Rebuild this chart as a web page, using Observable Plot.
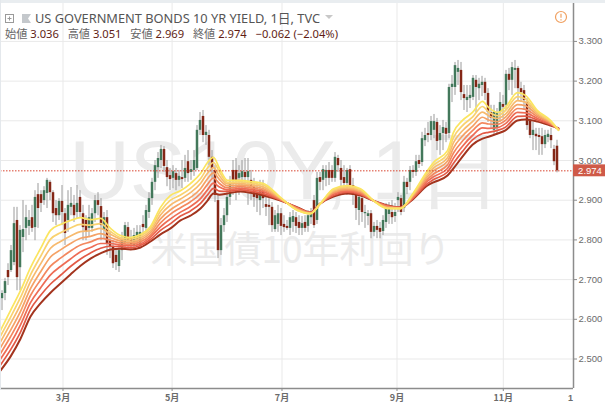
<!DOCTYPE html>
<html><head><meta charset="utf-8">
<script src="https://cdn.jsdelivr.net/npm/d3@7"></script>
<script src="https://cdn.jsdelivr.net/npm/@observablehq/plot@0.6"></script>
<style>
html,body{margin:0;padding:0;background:#fff;width:605px;height:406px;overflow:hidden}
#wrap{position:relative;width:605px;height:406px}
#wrap svg{position:absolute;left:0;top:0;overflow:visible}
.abs{position:absolute}
.l1,.l2{font-family:"Noto Sans","Noto Sans CJK JP",sans-serif;white-space:pre;line-height:1}
.l1{left:35px;top:12px;font-size:12.8px;color:#555}
.l2{left:5px;top:28px;font-size:11.2px;color:#666}
.l2 b{font-weight:400;color:#5f1d14}
</style></head><body><div id="wrap"></div>
<script>
const opens=[
2.652,2.665,2.723,2.723,2.743,2.849,2.730,2.806,2.829,2.834,
2.856,2.831,2.914,2.914,2.899,2.917,2.945,2.919,2.879,2.861,
2.897,2.866,2.849,2.882,2.887,2.869,2.907,2.866,2.849,2.829,
2.829,2.866,2.899,2.884,2.824,2.856,2.798,2.781,2.761,2.733,
2.773,2.791,2.831,2.803,2.786,2.798,2.786,2.839,2.829,2.869,
2.904,2.945,2.982,3.000,3.028,2.982,2.962,2.955,2.967,2.950,
2.957,2.955,2.997,2.970,2.975,2.980,3.076,3.111,3.063,3.063,
3.008,2.975,2.899,2.773,2.836,2.861,2.907,2.975,2.975,2.955,
2.957,2.970,2.957,2.950,2.932,2.917,2.899,2.924,2.889,2.887,
2.882,2.826,2.839,2.866,2.839,2.834,2.829,2.844,2.856,2.844,
2.829,2.844,2.834,2.856,2.899,2.849,2.957,2.950,2.955,2.975,
2.975,2.955,3.005,2.980,2.957,2.942,2.977,2.937,2.912,2.874,
2.904,2.866,2.859,2.866,2.819,2.834,2.829,2.821,2.844,2.864,
2.869,2.859,2.899,2.904,2.879,2.945,2.945,2.975,2.970,3.000,
2.995,3.050,3.068,3.063,3.076,3.096,3.050,3.068,3.081,3.068,
3.184,3.184,3.222,3.227,3.166,3.151,3.156,3.159,3.202,3.181,
3.189,3.197,3.169,3.121,3.076,3.081,3.121,3.141,3.139,3.217,
3.202,3.227,3.232,3.181,3.176,3.146,3.101,3.063,3.066,3.063,
3.060,3.040,3.058,3.063,3.028,3.036];
const closes=[
2.665,2.695,2.705,2.773,2.841,2.705,2.824,2.826,2.856,2.849,
2.829,2.907,2.879,2.892,2.924,2.950,2.919,2.866,2.861,2.897,
2.869,2.816,2.887,2.892,2.861,2.892,2.869,2.831,2.819,2.856,
2.866,2.899,2.887,2.836,2.856,2.791,2.781,2.740,2.743,2.773,
2.798,2.836,2.798,2.788,2.811,2.819,2.819,2.831,2.874,2.904,
2.945,2.987,3.005,3.028,2.985,2.957,2.952,2.972,2.950,2.960,
2.952,2.980,2.967,2.977,3.000,3.076,3.101,3.063,3.071,3.008,
2.980,2.912,2.773,2.836,2.861,2.907,2.945,2.950,2.950,2.967,
2.972,2.957,2.972,2.932,2.907,2.904,2.924,2.904,2.882,2.882,
2.836,2.861,2.866,2.834,2.831,2.829,2.856,2.859,2.834,2.829,
2.841,2.829,2.861,2.864,2.836,2.955,2.945,2.977,2.975,2.955,
2.955,3.008,2.987,2.950,2.942,2.975,2.937,2.912,2.879,2.907,
2.869,2.869,2.866,2.819,2.834,2.824,2.819,2.849,2.879,2.879,
2.856,2.869,2.907,2.869,2.945,2.932,2.975,2.970,2.997,2.990,
3.055,3.063,3.063,3.098,3.098,3.048,3.068,3.083,3.066,3.184,
3.192,3.239,3.232,3.171,3.156,3.159,3.164,3.207,3.184,3.192,
3.197,3.169,3.121,3.106,3.121,3.121,3.146,3.134,3.217,3.202,
3.234,3.232,3.181,3.171,3.151,3.088,3.063,3.076,3.060,3.058,
3.040,3.063,3.066,3.050,2.997,2.974];
const highs=[
2.672,2.703,2.740,2.786,2.882,2.882,2.836,2.899,2.887,2.874,
2.887,2.924,2.942,2.924,2.934,2.955,2.950,2.924,2.899,2.904,
2.937,2.879,2.924,2.932,2.912,2.937,2.924,2.887,2.861,2.887,
2.879,2.912,2.919,2.904,2.869,2.874,2.819,2.798,2.778,2.788,
2.819,2.844,2.844,2.824,2.829,2.836,2.836,2.861,2.887,2.919,
2.955,3.000,3.020,3.038,3.035,3.000,2.980,2.987,2.980,2.975,
3.000,3.013,3.025,3.000,3.025,3.088,3.121,3.126,3.088,3.076,
3.025,2.987,2.912,2.854,2.879,2.924,2.960,3.000,3.005,2.987,
3.000,3.005,3.005,2.975,2.955,2.945,2.950,2.950,2.912,2.904,
2.894,2.874,2.887,2.879,2.861,2.849,2.869,2.874,2.869,2.861,
2.859,2.861,2.874,2.879,2.912,2.970,2.970,2.987,2.987,2.995,
2.987,3.020,3.013,3.000,2.987,2.980,2.987,2.955,2.929,2.919,
2.924,2.887,2.874,2.874,2.844,2.849,2.844,2.861,2.892,2.894,
2.899,2.892,2.919,2.912,2.960,2.955,2.985,2.987,3.013,3.013,
3.071,3.081,3.096,3.111,3.116,3.106,3.088,3.101,3.096,3.192,
3.214,3.247,3.252,3.247,3.189,3.189,3.189,3.214,3.214,3.207,
3.212,3.207,3.181,3.139,3.139,3.131,3.171,3.164,3.227,3.232,
3.247,3.252,3.237,3.197,3.189,3.156,3.139,3.096,3.081,3.081,
3.081,3.076,3.076,3.081,3.038,3.051];
const lows=[
2.622,2.647,2.685,2.718,2.735,2.672,2.672,2.768,2.798,2.811,
2.819,2.798,2.829,2.869,2.887,2.879,2.899,2.844,2.836,2.849,
2.836,2.786,2.819,2.861,2.844,2.854,2.854,2.798,2.798,2.806,
2.819,2.844,2.861,2.798,2.803,2.761,2.753,2.728,2.723,2.718,
2.748,2.778,2.773,2.773,2.773,2.783,2.778,2.811,2.819,2.854,
2.887,2.924,2.955,2.980,2.970,2.934,2.924,2.929,2.924,2.934,
2.929,2.945,2.945,2.950,2.960,2.975,3.063,3.045,3.038,2.987,
2.955,2.894,2.753,2.761,2.819,2.844,2.887,2.912,2.899,2.912,
2.924,2.919,2.887,2.899,2.882,2.869,2.861,2.879,2.859,2.836,
2.819,2.819,2.819,2.811,2.819,2.824,2.811,2.819,2.816,2.811,
2.811,2.819,2.819,2.839,2.829,2.839,2.924,2.924,2.934,2.937,
2.945,2.945,2.970,2.912,2.919,2.912,2.924,2.887,2.849,2.836,
2.844,2.829,2.836,2.803,2.808,2.803,2.803,2.811,2.829,2.839,
2.839,2.844,2.869,2.861,2.869,2.914,2.924,2.955,2.960,2.980,
2.985,3.035,3.045,3.050,3.055,3.025,3.013,3.025,3.045,3.055,
3.146,3.164,3.189,3.151,3.126,3.121,3.131,3.151,3.121,3.151,
3.161,3.151,3.096,3.081,3.063,3.063,3.096,3.106,3.126,3.176,
3.164,3.181,3.151,3.146,3.126,3.076,3.055,3.025,3.025,3.013,
3.013,3.030,3.045,3.030,2.987,2.969];

const ribbonBars=[0,3.33,6.67,10,13.33,16.67,20,23.33,26.67,30,33.33,36.67,40,43.33,46.67,50,53.33,56.67,60,63.33,66.67,69,71,73,75.67,80,83.33,87.67,93.33,99,103.33,106.67,111,115.67,120,124.33,129,133.33,137.67,142.33,144.33,149,151,154,157.33,160.67,162.67,165.67,168.33,172.33,175,179,183.33,186];
const ma1=[2.572,2.622,2.672,2.730,2.778,2.824,2.839,2.849,2.856,2.851,2.854,2.829,2.811,2.806,2.814,2.834,2.882,2.912,2.924,2.942,2.967,2.995,3.008,2.980,2.950,2.950,2.947,2.942,2.907,2.874,2.866,2.892,2.929,2.937,2.929,2.899,2.879,2.879,2.919,2.975,2.995,3.025,3.071,3.101,3.121,3.149,3.134,3.121,3.134,3.171,3.164,3.126,3.101,3.076];
const ma2=[2.558,2.605,2.655,2.712,2.758,2.802,2.818,2.830,2.839,2.837,2.841,2.821,2.806,2.802,2.809,2.829,2.872,2.900,2.913,2.930,2.954,2.981,2.995,2.971,2.945,2.946,2.943,2.938,2.906,2.875,2.866,2.892,2.926,2.934,2.927,2.899,2.880,2.879,2.917,2.970,2.988,3.016,3.058,3.088,3.109,3.136,3.123,3.113,3.126,3.161,3.155,3.122,3.099,3.077];
const ma3=[2.543,2.589,2.637,2.695,2.739,2.779,2.796,2.810,2.821,2.823,2.829,2.814,2.802,2.797,2.805,2.823,2.863,2.888,2.903,2.919,2.942,2.968,2.982,2.961,2.941,2.942,2.939,2.933,2.905,2.876,2.867,2.892,2.923,2.931,2.924,2.899,2.881,2.880,2.915,2.964,2.981,3.007,3.045,3.075,3.098,3.122,3.113,3.106,3.117,3.151,3.147,3.118,3.097,3.077];
const ma4=[2.529,2.572,2.620,2.677,2.719,2.757,2.775,2.791,2.804,2.809,2.816,2.806,2.797,2.793,2.800,2.818,2.853,2.876,2.892,2.907,2.929,2.954,2.969,2.952,2.936,2.938,2.935,2.929,2.904,2.877,2.867,2.892,2.920,2.928,2.922,2.899,2.882,2.880,2.913,2.959,2.974,2.998,3.032,3.062,3.086,3.109,3.102,3.098,3.109,3.141,3.138,3.114,3.095,3.078];
const ma5=[2.514,2.556,2.603,2.660,2.699,2.734,2.754,2.772,2.787,2.795,2.804,2.799,2.792,2.789,2.795,2.812,2.843,2.865,2.881,2.896,2.917,2.940,2.956,2.942,2.931,2.934,2.931,2.925,2.902,2.879,2.868,2.892,2.918,2.926,2.919,2.899,2.884,2.881,2.910,2.953,2.966,2.989,3.019,3.049,3.075,3.095,3.092,3.091,3.101,3.131,3.129,3.110,3.094,3.079];
const ma6=[2.500,2.539,2.586,2.642,2.679,2.712,2.733,2.752,2.770,2.781,2.791,2.791,2.787,2.785,2.790,2.807,2.833,2.853,2.870,2.884,2.904,2.926,2.943,2.933,2.926,2.930,2.927,2.921,2.901,2.880,2.868,2.892,2.915,2.923,2.917,2.899,2.885,2.881,2.908,2.948,2.959,2.980,3.006,3.036,3.063,3.082,3.081,3.083,3.093,3.121,3.120,3.106,3.092,3.080];
const ma7=[2.485,2.523,2.568,2.625,2.660,2.689,2.711,2.733,2.752,2.767,2.779,2.784,2.783,2.780,2.786,2.801,2.824,2.841,2.860,2.873,2.892,2.913,2.930,2.923,2.922,2.926,2.923,2.916,2.900,2.881,2.869,2.892,2.912,2.920,2.914,2.899,2.886,2.882,2.906,2.942,2.952,2.971,2.993,3.023,3.052,3.068,3.071,3.076,3.084,3.111,3.112,3.102,3.090,3.080];
const ma8=[2.471,2.506,2.551,2.607,2.640,2.667,2.690,2.713,2.735,2.753,2.766,2.776,2.778,2.776,2.781,2.796,2.814,2.829,2.849,2.861,2.879,2.899,2.917,2.914,2.917,2.922,2.919,2.912,2.899,2.882,2.869,2.892,2.909,2.917,2.912,2.899,2.887,2.882,2.904,2.937,2.945,2.962,2.980,3.010,3.040,3.055,3.060,3.068,3.076,3.101,3.103,3.098,3.088,3.081];
const maColors=["#fbe560","#f9d270","#f7ba6e","#f5a266","#f3885f","#ee6c55","#e35a46","#a3341e"];

const priceTicks=[2.5,2.6,2.7,2.8,2.9,3.0,3.1,3.2,3.3];
const monthBars=[20.83,57.2,93.83,132.17,167.6];
const monthLabels=["3月","5月","7月","9月","11月"];
const lastPrice=2.974;
const fontAxis='"Liberation Sans",sans-serif';
const C={axis:"#8c8c8c",grid:"#e9e9e9",label:"#6b6b6b",up:"#43785b",down:"#842717",wick:"#9a9a9a",mark:"#ebebeb"};

const bars=opens.map((o,i)=>({x:i+0.5,o,c:closes[i],h:highs[i],l:lows[i]}));
const up=bars.filter(d=>d.c>=d.o), down=bars.filter(d=>d.c<d.o);
const maSeries=[ma8,ma7,ma6,ma5,ma4,ma3,ma2,ma1];
const maStroke=[...maColors].reverse();
const xMax=191, yMin=2.4257, yMax=3.3955;

const chart=Plot.plot({
  width:605,height:406,marginLeft:0,marginRight:32,marginTop:3,marginBottom:18,
  style:{background:"transparent",fontFamily:fontAxis},
  x:{domain:[0,xMax]},y:{domain:[yMin,yMax]},
  marks:[
    Plot.text(["US10Y, 1日"],{x:[95],y:[2.97],text:d=>d,fontSize:84,fill:C.mark,fontFamily:fontAxis}),
    Plot.text(["米国債10年利回り"],{x:[100],y:[2.772],text:d=>d,fontSize:37,fill:C.mark,fontFamily:'"Noto Sans CJK JP",sans-serif'}),
    Plot.gridX(monthBars,{stroke:C.grid,strokeOpacity:1}),
    Plot.gridY(priceTicks,{stroke:C.grid,strokeOpacity:1}),
    Plot.ruleX(bars,{x:"x",y1:"l",y2:"h",stroke:C.wick,strokeWidth:1}),
    Plot.ruleX(up,{x:"x",y1:"o",y2:"c",stroke:C.up,strokeWidth:2.5}),
    Plot.ruleX(down,{x:"x",y1:"o",y2:"c",stroke:C.down,strokeWidth:2.5}),
    ...maSeries.map((s,k)=>Plot.line(s.map((v,i)=>({x:ribbonBars[i],y:v})),{x:"x",y:"y",stroke:maStroke[k],strokeWidth:k===0?2:1.7,curve:"monotone-x"})),
    Plot.ruleY([lastPrice],{x1:0,x2:xMax,stroke:"#d8432f",strokeWidth:1,strokeDasharray:"1.5,1.5"}),
    Plot.ruleX([xMax],{stroke:C.axis,strokeWidth:1.5}),
    Plot.ruleY([yMin],{stroke:C.axis,strokeWidth:1.5}),
    Plot.axisY(priceTicks,{anchor:"right",tickFormat:d=>d.toFixed(3),tickSize:3,tickPadding:2,stroke:C.axis,fill:C.label,fontSize:9.5,label:null}),
    Plot.axisX(monthBars,{anchor:"bottom",tickFormat:(d,i)=>monthLabels[i],tickSize:3,tickPadding:3,stroke:C.axis,fill:C.label,fontSize:9,fontWeight:"bold",label:null,fontFamily:'"Noto Sans CJK JP",sans-serif'}),
    Plot.text(["1"],{x:[xMax],y:[yMin],text:d=>d,dx:-3,dy:10,fontSize:9,fontWeight:"bold",fill:C.label}),
    Plot.rect([lastPrice],{x1:xMax,x2:201.67,y1:d=>d-0.015,y2:d=>d+0.015,fill:"#cf5a48"}),
    Plot.text([lastPrice],{x:xMax+5.5,y:d=>d,text:d=>d.toFixed(3),fill:"#fff",fontSize:9.5})
  ]
});
const wrap=document.getElementById("wrap");
wrap.appendChild(chart);
wrap.insertAdjacentHTML("beforeend",`
<div class="abs" style="left:0;top:0;width:605px;height:3px;background:#e9edf0"></div>
<div class="abs" style="left:0;top:0;width:1px;height:390px;background:#e4e8ec"></div>
<svg class="abs" width="40" height="24" style="left:0;top:8px">
 <rect x="5.5" y="6.5" width="8" height="8" fill="none" stroke="#9a9a9a"/>
 <path d="M7.5 10.5h4M9.5 8.5v4" stroke="#9a9a9a"/>
 <path d="M22 6h9l-3 4.5 3 4.5h-9z" fill="#c4c8cc"/>
</svg>
<div class="abs l1">US GOVERNMENT BONDS 10 YR YIELD, 1日, TVC</div>
<svg class="abs" width="10" height="6" style="left:325px;top:15px"><path d="M0 0h8l-4 4z" fill="#c8c8c8"/></svg>
<div class="abs l2">始値<b> 3.036</b>   高値<b> 3.051</b>   安値<b> 2.969</b>   終値<b> 2.974</b>   <b>−0.062 (−2.04%)</b></div>
<svg class="abs" width="14" height="14" style="left:554px;top:10px"><circle cx="7" cy="7" r="5.5" fill="none" stroke="#f0a060" stroke-width="1.2"/><path d="M7 3.8v4M7 9.2v1.4" stroke="#f0a060" stroke-width="1.2"/></svg>
`);
</script></body></html>
